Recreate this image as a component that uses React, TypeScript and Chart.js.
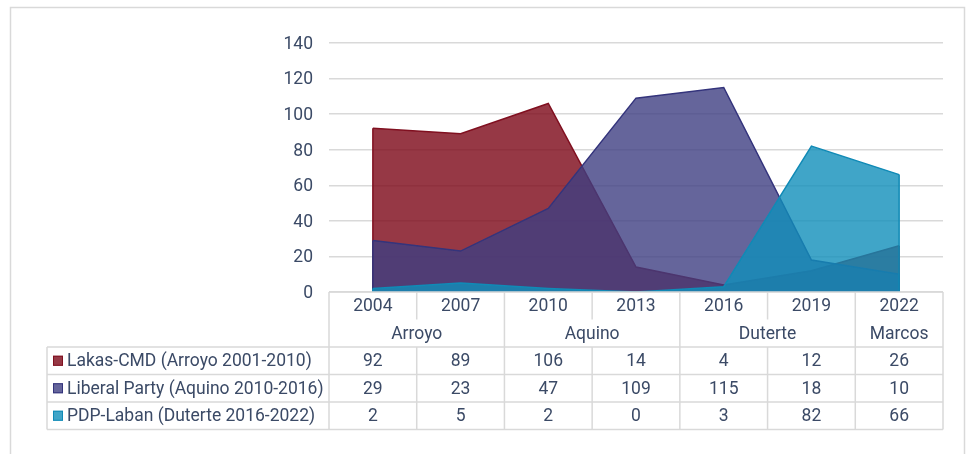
import React, { useEffect, useRef } from 'react';
import { Chart, registerables } from 'chart.js';

Chart.register(...registerables);

const categories = ['2004', '2007', '2010', '2013', '2016', '2019', '2022'];
const groupLabels = ['Arroyo', 'Aquino', 'Duterte', 'Marcos'];
const groupSpans = [2, 2, 2, 1];
const seriesNames = [
  'Lakas-CMD (Arroyo 2001-2010)',
  'Liberal Party (Aquino 2010-2016)',
  'PDP-Laban (Duterte 2016-2022)',
];
const lakas = [92, 89, 106, 14, 4, 12, 26];
const liberal = [29, 23, 47, 109, 115, 18, 10];
const pdp = [2, 5, 2, 0, 3, 82, 66];
const yTicks = [0, 20, 40, 60, 80, 100, 120, 140];

const FONT = 'Roboto, "Noto Sans", sans-serif';
const FONT_SIZE = 17.5;
const TEXT = '#3b4a66';
const GRID = '#d9d9d9';

const fills = ['rgba(124,6,22,0.8)', 'rgba(62,62,130,0.8)', 'rgba(16,142,186,0.8)'];
const borders = ['rgb(128,16,32)', 'rgb(52,52,124)', 'rgb(16,138,182)'];

const tablePlugin = {
  id: 'dataTable',
  beforeDraw(chart: any) {
    const ctx = chart.ctx;
    ctx.save();
    ctx.strokeStyle = GRID;
    ctx.lineWidth = 1.5;
    ctx.strokeRect(10.5, 7.5, 954, 470);
    ctx.restore();
  },
  afterDatasetDraw(chart: any, args: any) {
    const meta = args.meta;
    const pts = meta.data;
    if (!pts || !pts.length) return;
    const ctx = chart.ctx;
    const y0 = chart.scales.y.getPixelForValue(0);
    ctx.save();
    ctx.strokeStyle = borders[args.index];
    ctx.lineWidth = 1.5;
    [pts[0], pts[pts.length - 1]].forEach((p: any) => {
      ctx.beginPath();
      ctx.moveTo(p.x, p.y);
      ctx.lineTo(p.x, y0);
      ctx.stroke();
    });
    ctx.restore();
  },
  afterDraw(chart: any) {
    const ctx = chart.ctx;
    const ca = chart.chartArea;
    const xs = chart.scales.x;
    const n = categories.length;
    const colW = (ca.right - ca.left) / n;
    const edges = Array.from({ length: n + 1 }, (_, i) => ca.left + i * colW);
    const top = ca.bottom;
    const rh = 27.5;
    const y1 = top + rh;
    const y2 = top + 2 * rh;
    const bottom = y2 + 3 * rh;
    const legendLeft = 47;
    const dy = 1;
    const line = (xa: number, ya: number, xb: number, yb: number) => {
      ctx.beginPath();
      ctx.moveTo(xa, ya);
      ctx.lineTo(xb, yb);
      ctx.stroke();
    };
    const groupEdges = new Set<number>([0]);
    let acc = 0;
    groupSpans.forEach((s) => {
      acc += s;
      groupEdges.add(acc);
    });

    ctx.save();
    ctx.strokeStyle = GRID;
    ctx.lineWidth = 1.5;
    line(ca.left, top, ca.right, top);
    for (let r = 0; r <= 3; r++) line(legendLeft, y2 + r * rh, ca.right, y2 + r * rh);
    for (let i = 0; i <= n; i++) {
      const x = edges[i];
      if (groupEdges.has(i)) {
        line(x, top, x, bottom);
      } else {
        line(x, top, x, y1);
        line(x, y2, x, bottom);
      }
    }
    line(legendLeft, y2, legendLeft, bottom);

    ctx.fillStyle = TEXT;
    ctx.font = `${FONT_SIZE}px ${FONT}`;
    ctx.textAlign = 'center';
    ctx.textBaseline = 'middle';
    categories.forEach((c, i) => {
      ctx.fillText(c, xs.getPixelForValue(i), top + rh / 2 + dy);
    });
    let start = 0;
    groupLabels.forEach((g, gi) => {
      const end = start + groupSpans[gi];
      ctx.fillText(g, (edges[start] + edges[end]) / 2, y1 + rh / 2 + dy);
      start = end;
    });
    const rows = [lakas, liberal, pdp];
    rows.forEach((vals, r) => {
      const cy = y2 + r * rh + rh / 2;
      vals.forEach((v, i) => ctx.fillText(String(v), xs.getPixelForValue(i), cy + dy));
      ctx.fillStyle = fills[r];
      ctx.fillRect(53, cy - 5, 10, 10);
      ctx.strokeStyle = borders[r];
      ctx.lineWidth = 1;
      ctx.strokeRect(53.5, cy - 4.5, 9, 9);
      ctx.fillStyle = TEXT;
      ctx.textAlign = 'left';
      ctx.fillText(seriesNames[r], 67, cy + dy);
      ctx.textAlign = 'center';
    });
    ctx.restore();
  },
};

export default function App() {
  const ref = useRef<HTMLCanvasElement>(null);
  useEffect(() => {
    if (!ref.current) return;
    const mk = (label: string, data: number[], i: number, order: number) => ({
      label,
      data,
      backgroundColor: fills[i],
      borderColor: borders[i],
      borderWidth: 1.5,
      fill: 'origin',
      tension: 0,
      pointRadius: 0,
      order,
    });
    const chart = new Chart(ref.current, {
      type: 'line',
      data: {
        labels: categories,
        datasets: [
          mk(seriesNames[0], lakas, 0, 3),
          mk(seriesNames[1], liberal, 1, 2),
          mk(seriesNames[2], pdp, 2, 1),
        ],
      },
      options: {
        responsive: false,
        animation: false,
        devicePixelRatio: 1,
        layout: { padding: { top: 43, right: 23, bottom: 162, left: 0 } },
        plugins: { legend: { display: false }, tooltip: { enabled: false } },
        scales: {
          x: { type: 'category', offset: true, display: false },
          y: {
            min: 0,
            max: 140,
            afterBuildTicks: (s: any) => {
              s.ticks = yTicks.map((v) => ({ value: v }));
            },
            afterFit: (s: any) => {
              s.width = 329;
            },
            border: { display: false },
            grid: { color: GRID, lineWidth: 1.5, drawTicks: false },
            ticks: {
              padding: 16,
              labelOffset: 1.5,
              color: TEXT,
              font: { family: FONT, size: FONT_SIZE },
            },
          },
        },
      },
      plugins: [tablePlugin],
    } as any);
    return () => chart.destroy();
  }, []);
  return (
    <div style={{ position: 'absolute', left: 0, top: 0, width: 966, height: 454, background: '#fff' }}>
      <canvas ref={ref} width={966} height={454} style={{ display: 'block', width: 966, height: 454 }} />
    </div>
  );
}
